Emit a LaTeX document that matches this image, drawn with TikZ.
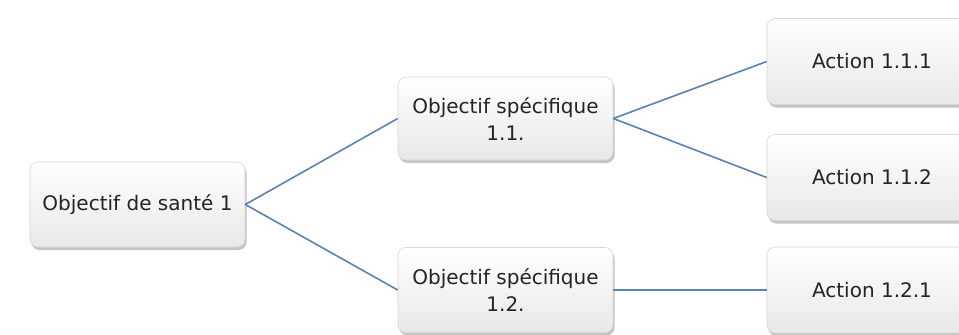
\documentclass[tikz,border=0pt]{standalone}
\usepackage{fontspec}
\setmainfont{DejaVu Sans}
\usetikzlibrary{shadows}
\definecolor{linkblue}{RGB}{88,131,181}
\definecolor{txtgray}{RGB}{35,35,40}
\definecolor{boxedge}{RGB}{215,215,215}
\begin{document}
\begin{tikzpicture}[x=1bp,y=-1bp,
  card/.style={draw=boxedge, line width=0.6bp, rounded corners=8bp,
    top color=white, bottom color=black!9,
    minimum width=215bp, minimum height=85bp, inner sep=0pt,
    align=center, text=txtgray,
    font=\fontsize{20bp}{27bp}\selectfont,
    drop shadow={shadow xshift=1.5bp, shadow yshift=-3bp, fill=black!45, opacity=0.5}},
  actcard/.style={card, minimum width=210bp, minimum height=86bp},
  link/.style={draw=linkblue, line width=1.6bp}]
\useasboundingbox (0,0) rectangle (959,334);
\clip (0,0) rectangle (959,334);
\fill[white] (0,0) rectangle (959,334);
\node[card] (root) at (137.5,204.5) {Objectif de santé 1};
\node[card, minimum height=83bp] (o11) at (505.5,118.5) {Objectif spécifique\\1.1.};
\node[card] (o12) at (505.5,290) {Objectif spécifique\\1.2.};
\node[actcard] (a111) at (872,61.5) {Action 1.1.1};
\node[actcard] (a112) at (872,177.5) {Action 1.1.2};
\node[actcard] (a121) at (872,290) {Action 1.2.1};
\draw[link] (root.east) -- (o11.west);
\draw[link] (root.east) -- (o12.west);
\draw[link] (o11.east) -- (a111.west);
\draw[link] (o11.east) -- (a112.west);
\draw[link] (o12.east) -- (a121.west);
\end{tikzpicture}
\end{document}
